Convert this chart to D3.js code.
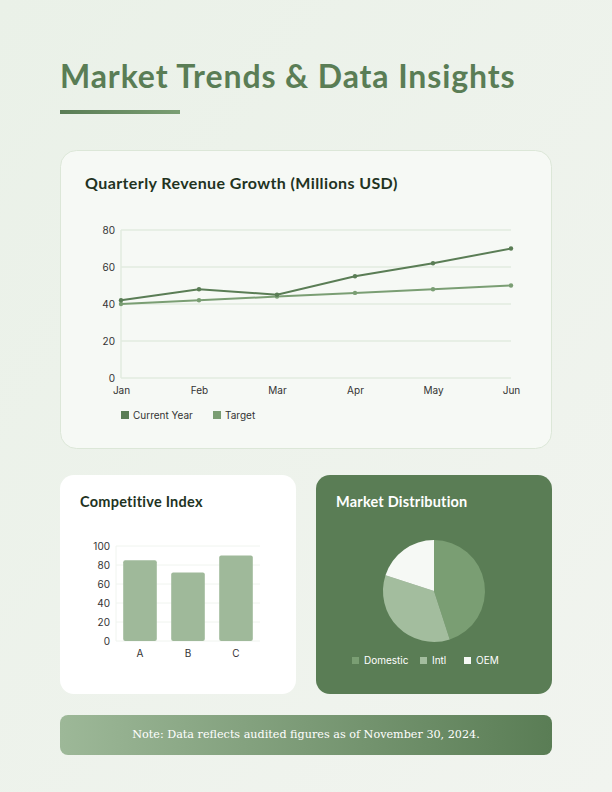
<!DOCTYPE html>
<html>
<head>
<meta charset="utf-8">
<script src="https://cdn.jsdelivr.net/npm/d3@7"></script>
<style>
  html, body { margin: 0; padding: 0; }
  body { width: 612px; height: 792px; overflow: hidden; }
</style>
</head>
<body>
<script>
// Page size
var w = 612;
var h = 792;

// Line chart data
const months = ["Jan", "Feb", "Mar", "Apr", "May", "Jun"];
const currentYear = [42, 48, 45, 55, 62, 70];
const target = [40, 42, 44, 46, 48, 50];
const lineTicks = [0, 20, 40, 60, 80];

// Bar chart data
const competitors = ["A", "B", "C"];
const competitiveIndex = [85, 72, 90];
const barTicks = [0, 20, 40, 60, 80, 100];

// Pie data
const segments = ["Domestic", "Intl", "OEM"];
const shares = [45, 35, 20];

const dark = "#5a7d55";
const mid = "#7a9e73";
const sans = "Inter, Roboto, sans-serif";
const headFont = "Lato, 'Open Sans', sans-serif";

const svg = d3.select("body").append("svg")
  .attr("width", w)
  .attr("height", h);

const defs = svg.append("defs");

const bg = defs.append("linearGradient").attr("id", "bg")
  .attr("x1", 0).attr("y1", 0).attr("x2", 1).attr("y2", 1);
bg.append("stop").attr("offset", "0%").attr("stop-color", "#eaf1e8");
bg.append("stop").attr("offset", "100%").attr("stop-color", "#f1f4ef");

const underline = defs.append("linearGradient").attr("id", "underline");
underline.append("stop").attr("offset", "0%").attr("stop-color", dark);
underline.append("stop").attr("offset", "100%").attr("stop-color", mid);

const note = defs.append("linearGradient").attr("id", "note");
note.append("stop").attr("offset", "0%").attr("stop-color", "#9db898");
note.append("stop").attr("offset", "100%").attr("stop-color", dark);

svg.append("rect").attr("width", w).attr("height", h).attr("fill", "url(#bg)");

// heading
svg.append("text")
  .attr("x", 60).attr("y", 88)
  .attr("font-family", headFont)
  .attr("font-weight", 700)
  .attr("font-size", 32)
  .attr("letter-spacing", 0.9)
  .attr("fill", dark)
  .text("Market Trends & Data Insights");

svg.append("rect")
  .attr("x", 60).attr("y", 110).attr("width", 120).attr("height", 4)
  .attr("fill", "url(#underline)");

// ---------- line chart card ----------
svg.append("rect")
  .attr("x", 60.5).attr("y", 150.5).attr("width", 491).attr("height", 298)
  .attr("rx", 16)
  .attr("fill", "#f6f9f5")
  .attr("stroke", "#dce7d8");

svg.append("text")
  .attr("x", 85).attr("y", 189)
  .attr("font-family", headFont)
  .attr("font-weight", 700)
  .attr("font-size", 16)
  .attr("letter-spacing", 0.4)
  .attr("fill", "#22331f")
  .text("Quarterly Revenue Growth (Millions USD)");

const xLine = d3.scalePoint().domain(months).range([121, 511]);
const yLine = d3.scaleLinear().domain([0, 80]).range([378, 230]);

const lineG = svg.append("g");

lineG.append("g")
  .selectAll("line")
  .data(lineTicks)
  .enter()
  .append("line")
    .attr("x1", 121).attr("x2", 511)
    .attr("y1", d => yLine(d)).attr("y2", d => yLine(d))
    .attr("stroke", "#e2ebdf")
    .attr("stroke-width", 1.5);

lineG.append("line")
  .attr("x1", 121).attr("x2", 121)
  .attr("y1", 230).attr("y2", 378)
  .attr("stroke", "#e2ebdf")
  .attr("stroke-width", 1.5);

const yAxisLine = d3.axisLeft(yLine).tickValues(lineTicks).tickSize(0).tickPadding(6);
lineG.append("g")
  .attr("transform", "translate(121,0)")
  .call(yAxisLine)
  .call(g => g.select(".domain").remove())
  .selectAll("text")
    .attr("font-family", sans)
    .attr("font-size", 10)
    .attr("fill", "#333");

const xAxisLine = d3.axisBottom(xLine).tickSize(0).tickPadding(9);
lineG.append("g")
  .attr("transform", "translate(0,378)")
  .call(xAxisLine)
  .call(g => g.select(".domain").remove())
  .selectAll("text")
    .attr("font-family", sans)
    .attr("font-size", 10)
    .attr("fill", "#333");

const lineGen = d3.line()
  .x((d, i) => xLine(months[i]))
  .y(d => yLine(d));

const lineSeries = [
  { name: "Target", values: target, color: mid },
  { name: "Current Year", values: currentYear, color: dark }
];

lineSeries.forEach(s => {
  lineG.append("path")
    .datum(s.values)
    .attr("d", lineGen)
    .attr("fill", "none")
    .attr("stroke", s.color)
    .attr("stroke-width", 2);

  lineG.selectAll(null)
    .data(s.values)
    .enter()
    .append("circle")
      .attr("cx", (d, i) => xLine(months[i]))
      .attr("cy", d => yLine(d))
      .attr("r", 2.2)
      .attr("fill", s.color);
});

// legend
const lineLegend = [
  { name: "Current Year", color: dark, x: 121 },
  { name: "Target", color: mid, x: 213 }
];
const lgItems = svg.selectAll(".lg1")
  .data(lineLegend)
  .enter()
  .append("g")
    .attr("transform", d => `translate(${d.x},411)`);
lgItems.append("rect")
  .attr("width", 8).attr("height", 8)
  .attr("fill", d => d.color);
lgItems.append("text")
  .attr("x", 12).attr("y", 7.5)
  .attr("font-family", sans)
  .attr("font-size", 10)
  .attr("fill", "#333")
  .text(d => d.name);

// ---------- bar chart card ----------
svg.append("rect")
  .attr("x", 60).attr("y", 475).attr("width", 236).attr("height", 219)
  .attr("rx", 14)
  .attr("fill", "#ffffff");

svg.append("text")
  .attr("x", 80).attr("y", 507)
  .attr("font-family", headFont)
  .attr("font-weight", 700)
  .attr("font-size", 14.5)
  .attr("letter-spacing", 0.25)
  .attr("fill", "#22331f")
  .text("Competitive Index");

const xBar = d3.scaleBand().domain(competitors).range([116, 260]).paddingInner(0.3).paddingOuter(0.15);
const yBar = d3.scaleLinear().domain([0, 100]).range([641, 546]);

const barG = svg.append("g");

barG.selectAll("line")
  .data(barTicks)
  .enter()
  .append("line")
    .attr("x1", 116).attr("x2", 260)
    .attr("y1", d => yBar(d)).attr("y2", d => yBar(d))
    .attr("stroke", "#f0f4ef")
    .attr("stroke-width", 1);

barG.append("line")
  .attr("x1", 116).attr("x2", 116)
  .attr("y1", 546).attr("y2", 641)
  .attr("stroke", "#f0f4ef");

barG.append("g")
  .attr("transform", "translate(116,0)")
  .call(d3.axisLeft(yBar).tickValues(barTicks).tickSize(0).tickPadding(6))
  .call(g => g.select(".domain").remove())
  .selectAll("text")
    .attr("font-family", sans)
    .attr("font-size", 10)
    .attr("fill", "#333");

barG.append("g")
  .attr("transform", "translate(0,641)")
  .call(d3.axisBottom(xBar).tickSize(0).tickPadding(9))
  .call(g => g.select(".domain").remove())
  .selectAll("text")
    .attr("font-family", sans)
    .attr("font-size", 10)
    .attr("fill", "#333");

barG.selectAll("rect")
  .data(competitiveIndex)
  .enter()
  .append("rect")
    .attr("x", (d, i) => xBar(competitors[i]))
    .attr("y", d => yBar(d))
    .attr("width", xBar.bandwidth())
    .attr("height", d => yBar(0) - yBar(d))
    .attr("rx", 2)
    .attr("fill", "#9fb99a");

// ---------- pie card ----------
svg.append("rect")
  .attr("x", 316).attr("y", 475).attr("width", 236).attr("height", 219)
  .attr("rx", 14)
  .attr("fill", dark);

svg.append("text")
  .attr("x", 336).attr("y", 507)
  .attr("font-family", headFont)
  .attr("font-weight", 700)
  .attr("font-size", 14.5)
  .attr("letter-spacing", 0.2)
  .attr("fill", "#ffffff")
  .text("Market Distribution");

const pieColors = d3.scaleOrdinal().domain(segments).range([mid, "#a3bd9e", "#f6f9f5"]);
const pie = d3.pie().sort(null).value(d => d)(shares);
const arc = d3.arc().innerRadius(0).outerRadius(51);

svg.append("g")
  .attr("transform", "translate(434,591)")
  .selectAll("path")
  .data(pie)
  .enter()
  .append("path")
    .attr("d", arc)
    .attr("fill", (d, i) => pieColors(segments[i]));

const pieLegendX = [352, 420, 464];
const plItems = svg.selectAll(".lg2")
  .data(segments)
  .enter()
  .append("g")
    .attr("transform", (d, i) => `translate(${pieLegendX[i]},657)`);
plItems.append("rect")
  .attr("width", 7).attr("height", 7)
  .attr("fill", d => pieColors(d));
plItems.append("text")
  .attr("x", 12).attr("y", 7)
  .attr("font-family", sans)
  .attr("font-size", 10)
  .attr("fill", "#ffffff")
  .text(d => d);

// ---------- note ----------
svg.append("rect")
  .attr("x", 60).attr("y", 715).attr("width", 492).attr("height", 40)
  .attr("rx", 8)
  .attr("fill", "url(#note)");

svg.append("text")
  .attr("x", 306).attr("y", 738)
  .attr("text-anchor", "middle")
  .attr("font-family", "'DejaVu Serif', 'Liberation Serif', serif")
  .attr("font-size", 11.2)
  .attr("fill", "#ffffff")
  .text("Note: Data reflects audited figures as of November 30, 2024.");
</script>
</body>
</html>
